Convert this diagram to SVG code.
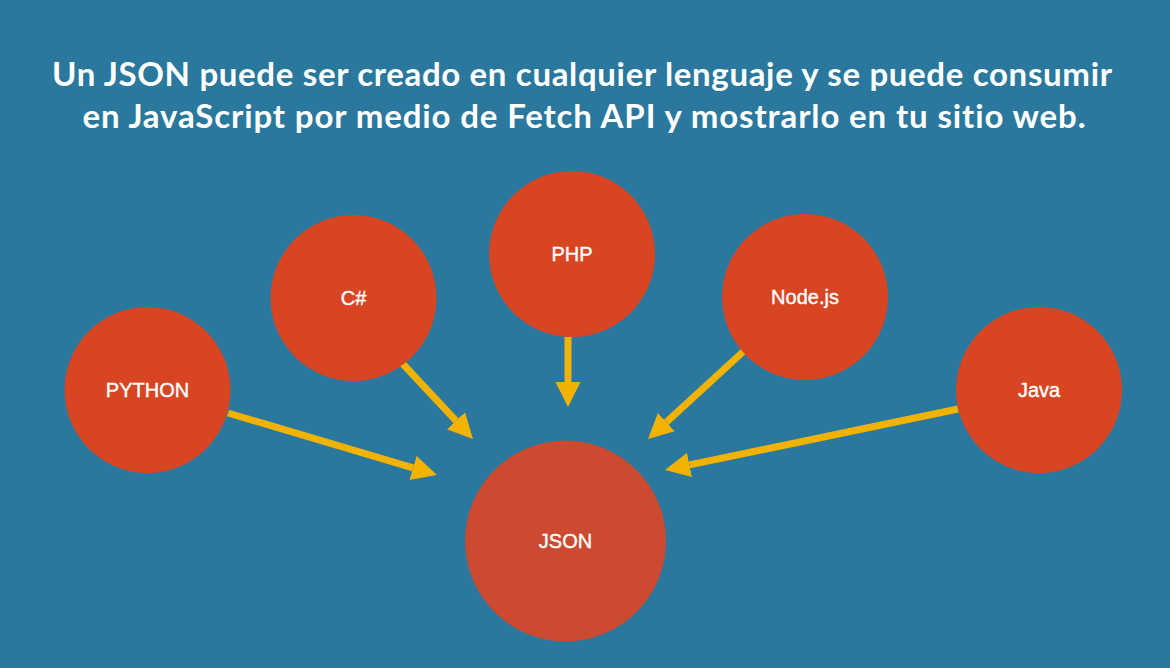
<svg xmlns="http://www.w3.org/2000/svg" width="1170" height="668" viewBox="0 0 1170 668">
  <style>
    .title { font-family: "Lato", "Open Sans", "Liberation Sans", sans-serif; font-weight: 700; font-size: 33px; fill: #ffffff; text-anchor: middle; font-variant-ligatures: none; font-feature-settings: "liga" 0, "dlig" 0; }
    .node { fill: #D84523; }
    .hub { fill: #CC4A2F; }
    .label { font-family: "Liberation Sans", Arial, sans-serif; font-size: 20px; fill: #ffffff; text-anchor: middle; stroke: #ffffff; stroke-width: 0.4; }
    .link { stroke: #F2B300; stroke-width: 7; fill: none; marker-end: url(#head); }
  </style>
  <defs>
    <marker id="head" markerUnits="userSpaceOnUse" markerWidth="26" markerHeight="26" refX="0" refY="12.5" orient="auto">
      <path d="M0,0 L25,12.5 L0,25 Z" fill="#F2B300"/>
    </marker>
  </defs>

  <rect width="1170" height="668" fill="#2A789D"/>

  <text class="title" x="582" y="86" textLength="1060" lengthAdjust="spacing">Un JSON puede ser creado en cualquier lenguaje y se puede consumir</text>
  <text class="title" x="584" y="128" textLength="1003" lengthAdjust="spacing">en JavaScript por medio de Fetch API y mostrarlo en tu sitio web.</text>

  <g id="connectors">
    <line class="link" x1="228" y1="413" x2="413" y2="467.9"/>
    <line class="link" x1="402" y1="363" x2="455.9" y2="420.7"/>
    <line class="link" x1="568" y1="337" x2="568" y2="382"/>
    <line class="link" x1="745" y1="350" x2="666.4" y2="422.1"/>
    <line class="link" x1="958" y1="409" x2="689.5" y2="464.9"/>
  </g>

  <g id="python">
    <circle class="node" cx="147.5" cy="390" r="83"/>
    <text class="label" x="147.5" y="397">PYTHON</text>
  </g>
  <g id="csharp">
    <circle class="node" cx="353.5" cy="298" r="83"/>
    <text class="label" x="353.5" y="305">C#</text>
  </g>
  <g id="php">
    <circle class="node" cx="572" cy="254" r="83"/>
    <text class="label" x="572" y="261">PHP</text>
  </g>
  <g id="nodejs">
    <circle class="node" cx="805" cy="297" r="83"/>
    <text class="label" x="805" y="304">Node.js</text>
  </g>
  <g id="java">
    <circle class="node" cx="1039" cy="390" r="83"/>
    <text class="label" x="1039" y="397">Java</text>
  </g>
  <g id="json">
    <circle class="hub" cx="565.5" cy="541" r="100.5"/>
    <text class="label" x="565.5" y="548">JSON</text>
  </g>
</svg>
